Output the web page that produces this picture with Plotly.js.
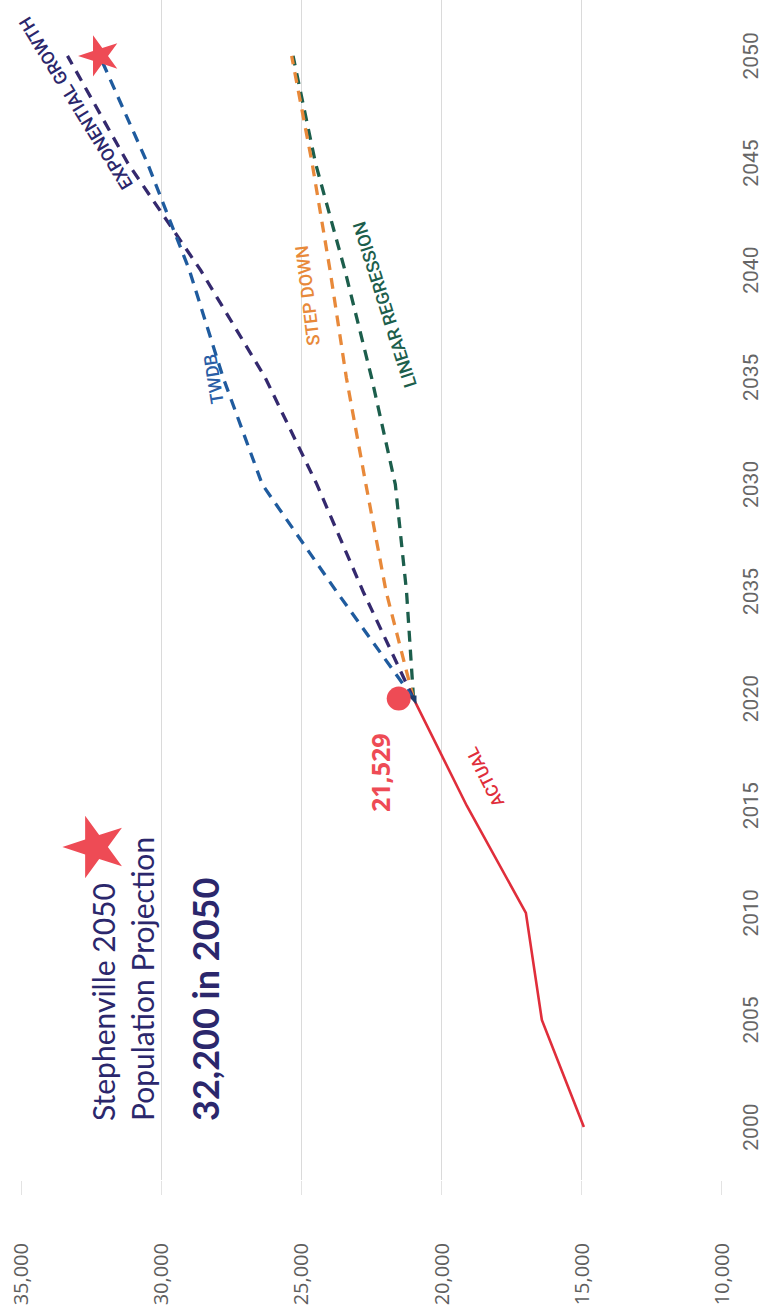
<!DOCTYPE html>
<html>
<head>
<meta charset="utf-8">
<script src="https://cdn.plot.ly/plotly-3.0.1.min.js"></script>
<style>
  html, body { margin: 0; padding: 0; background: #ffffff; overflow: hidden; }
  body { width: 773px; height: 1316px; position: relative; }
  /* the chart is laid out landscape and turned a quarter turn counter-clockwise */
  #chart {
    position: absolute; left: 0; top: 0;
    width: 1316px; height: 773px;
    transform-origin: 0 0;
    transform: translate(0, 1316px) rotate(-90deg);
  }
</style>
</head>
<body>
<div id="chart"></div>
<script>
// Stephenville population, census history
const actualYears = [2000, 2005, 2010, 2015, 2020];
const actualPop = [14921, 16420, 16990, 19100, 21000];

// projection scenarios from 2020 to 2050
const projYears = [2020, 2025, 2030, 2035, 2040, 2045, 2050];
const twdbPop = [21000, 23750, 26400, 27800, 29000, 30500, 32200];
const exponentialPop = [21000, 22800, 24450, 26300, 28600, 31200, 33350];
const stepDownPop = [21000, 21980, 22700, 23400, 23980, 24620, 25350];
const linearRegPop = [21000, 21250, 21650, 22500, 23450, 24500, 25300];

// 2020 estimate and the adopted 2050 projection
const estimateYear = [2020];
const estimatePop = [21529];
const targetYear = [2050];
const targetPop = [32200];

// axis ticks
const yearTicks = [2000, 2005, 2010, 2015, 2020, 2025, 2030, 2035, 2040, 2045, 2050];
const yearTickText = ['2000', '2005', '2010', '2015', '2020', '2035', '2030', '2035', '2040', '2045', '2050'];
const popTicks = [10000, 15000, 20000, 25000, 30000, 35000];
const popTickText = ['10,000', '15,000', '20,000', '25,000', '30,000', '35,000'];

const narrow = 'Roboto, "Noto Sans", sans-serif';
const coral = '#ee4b55';
const navy = '#2b276c';

function dashed(y, color) {
  return {
    x: projYears, y: y, type: 'scatter', mode: 'lines',
    line: {color: color, width: 3.3, dash: '11px,8px'},
    hoverinfo: 'skip', showlegend: false
  };
}

const traces = [
  {
    x: actualYears, y: actualPop, type: 'scatter', mode: 'lines',
    line: {color: '#e02e3b', width: 2.6}, showlegend: false
  },
  dashed(linearRegPop, '#1c5e4c'),
  dashed(stepDownPop, '#e8893a'),
  dashed(exponentialPop, '#34296e'),
  dashed(twdbPop, '#1f5b9e'),
  {
    x: [actualYears[actualYears.length - 1]], y: [actualPop[actualPop.length - 1]],
    type: 'scatter', mode: 'markers',
    marker: {symbol: 'triangle-se', size: 10, color: '#1d3c6a'}, showlegend: false
  },
  {
    x: estimateYear, y: estimatePop, type: 'scatter', mode: 'markers',
    marker: {symbol: 'circle', size: 24, color: coral}, showlegend: false
  },
  {
    x: targetYear, y: targetPop, type: 'scatter', mode: 'markers',
    marker: {symbol: 'star', size: 31, color: coral}, showlegend: false
  },
  // decorative star beside the heading, on an overlay in plot fractions
  {
    x: [0.2822], y: [0.894], xaxis: 'x2', yaxis: 'y2',
    type: 'scatter', mode: 'markers',
    marker: {symbol: 'star', size: 47, color: coral}, showlegend: false
  }
];

function lineLabel(text, x, y, angle, color, size) {
  return {
    x: x, y: y, xref: 'x', yref: 'y', text: text, showarrow: false,
    textangle: angle, font: {family: narrow, size: size, color: color, weight: 500}
  };
}

const annotations = [
  lineLabel('EXPONENTIAL GROWTH', 2047.8, 33070, -31.7, navy, 18),
  lineLabel('TWDB', 2034.9, 28150, -9, '#2a5ea6', 18),
  lineLabel('STEP DOWN', 2038.8, 24800, -7, '#e8893a', 18),
  lineLabel('LINEAR REGRESSION', 2038.4, 22020, -17.6, '#1c5e4c', 18),
  lineLabel('ACTUAL', 2016.35, 18450, -26.6, '#e02e3b', 17),
  {
    x: 2016.57, y: 22200, xref: 'x', yref: 'y', text: '<b>21,529</b>', showarrow: false,
    font: {family: 'Open Sans, sans-serif', size: 25, color: coral}
  },
  {
    x: 0.0483, y: 0.855, xref: 'paper', yref: 'paper', xanchor: 'left', yanchor: 'middle',
    align: 'left', showarrow: false,
    text: 'Stephenville 2050<br>Population Projection',
    font: {family: 'Lato, sans-serif', size: 30, color: navy, weight: 400}
  },
  {
    x: 0.0483, y: 0.7375, xref: 'paper', yref: 'paper', xanchor: 'left', yanchor: 'middle',
    showarrow: false, text: '<b>32,200 in 2050</b>',
    font: {family: 'Lato, sans-serif', size: 36, color: navy}
  }
];

const layout = {
  width: 1316, height: 773,
  margin: {l: 136, r: 0, t: 21, b: 51, pad: 0},
  paper_bgcolor: '#ffffff', plot_bgcolor: '#ffffff',
  showlegend: false,
  xaxis: {
    range: [1997.53, 2052.61], tickmode: 'array', tickvals: yearTicks, ticktext: yearTickText,
    showgrid: false, zeroline: false, showline: false, ticks: '',
    ticklabelstandoff: 14,
    tickfont: {family: narrow, size: 21, color: '#666666'}
  },
  yaxis: {
    range: [9990, 35010], tickmode: 'array', tickvals: popTicks, ticktext: popTickText,
    showgrid: true, gridcolor: '#dadada', gridwidth: 1.5, zeroline: false, showline: false,
    ticks: 'outside', ticklen: 14, tickcolor: '#e3e3e3', tickwidth: 1.5,
    ticklabelstandoff: 44,
    tickfont: {family: 'Open Sans, sans-serif', size: 20, color: '#5e5e5e'}
  },
  xaxis2: {overlaying: 'x', range: [0, 1], visible: false, fixedrange: true},
  yaxis2: {overlaying: 'y', range: [0, 1], visible: false, fixedrange: true},
  annotations: annotations
};

Plotly.newPlot('chart', traces, layout, {staticPlot: true, displayModeBar: false});
</script>
</body>
</html>
